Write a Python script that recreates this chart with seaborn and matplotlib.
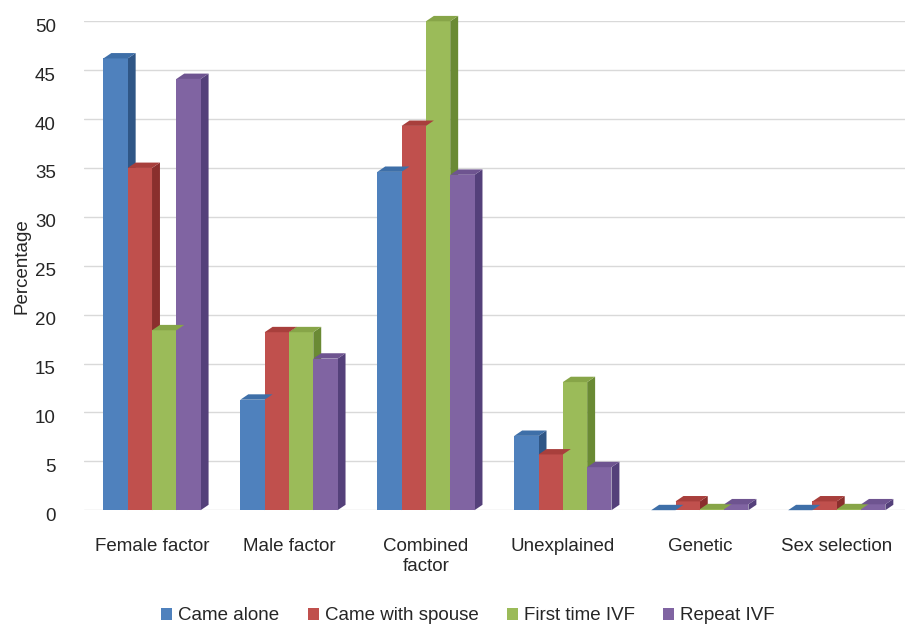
import matplotlib
matplotlib.use("Agg")
import matplotlib.pyplot as plt
from matplotlib.patches import Polygon, Patch
from matplotlib.transforms import ScaledTranslation
import seaborn as sns
import pandas as pd

categories = ["Female factor", "Male factor", "Combined\nfactor", "Unexplained", "Genetic", "Sex selection"]
series_names = ["Came alone", "Came with spouse", "First time IVF", "Repeat IVF"]
came_alone = [46.2, 11.3, 34.6, 7.6, 0.0, 0.0]
came_with_spouse = [35.0, 18.2, 39.3, 5.7, 0.9, 0.9]
first_time_ivf = [18.4, 18.2, 50.0, 13.1, 0.1, 0.1]
repeat_ivf = [44.1, 15.5, 34.3, 4.4, 0.6, 0.6]
yticks = [0, 5, 10, 15, 20, 25, 30, 35, 40, 45, 50]

front_colors = ["#4F81BD", "#C0504D", "#9BBB59", "#8064A2"]
side_colors = ["#2F5686", "#8A2F2D", "#6A8A34", "#54407A"]
top_colors = ["#3E6FA8", "#A83F3C", "#87A548", "#6E5490"]

rows = []
for name, vals in zip(series_names, [came_alone, came_with_spouse, first_time_ivf, repeat_ivf]):
    for c, v in zip(categories, vals):
        rows.append({"category": c, "series": name, "value": v})
df = pd.DataFrame(rows)

sns.set_theme(style="white")
plt.rcParams["font.family"] = ["Liberation Sans", "DejaVu Sans"]

fig = plt.figure(figsize=(9.13, 6.26), dpi=100)
ax = fig.add_axes([0.0915, 0.185, 0.90, 0.781])

sns.barplot(data=df, x="category", y="value", hue="series", order=categories,
            hue_order=series_names, palette=front_colors, width=0.71,
            saturation=1, legend=False, ax=ax, errorbar=None, zorder=3)

ax.set_xlim(-0.5, 5.5)
ax.set_ylim(0, 50)

# pseudo-3D depth faces derived from each bar's geometry
dx, dy = 0.058, 0.55
bars = list(ax.patches)
n_cat = len(categories)
for i, bar in enumerate(bars):
    s = i // n_cat
    x0 = bar.get_x()
    w = bar.get_width()
    h = bar.get_height()
    x1 = x0 + w
    side = Polygon([(x1, 0), (x1 + dx, dy), (x1 + dx, h + dy), (x1, h)],
                   closed=True, facecolor=side_colors[s], edgecolor="none",
                   zorder=2.9, clip_on=False)
    top = Polygon([(x0, h), (x0 + dx, h + dy), (x1 + dx, h + dy), (x1, h)],
                  closed=True, facecolor=top_colors[s], edgecolor="none",
                  zorder=3.1, clip_on=False)
    ax.add_patch(side)
    ax.add_patch(top)
    bar.set_edgecolor("none")

ax.set_yticks(yticks)
ax.set_yticklabels([str(t) for t in yticks], fontsize=13.5)
ax.tick_params(axis="y", length=0, pad=20)
ax.tick_params(axis="x", length=0, pad=20, labelsize=13.5)
shift = ScaledTranslation(0, -4 / 100, fig.dpi_scale_trans)
for lbl in ax.get_yticklabels():
    lbl.set_transform(lbl.get_transform() + shift)
ax.set_xlabel("")
ax.set_ylabel("Percentage", fontsize=13.5, labelpad=3)
ax.yaxis.grid(True, color="#D9D9D9", linewidth=1.0, zorder=0)
ax.set_axisbelow(True)
for sp in ax.spines.values():
    sp.set_visible(False)

handles = [Patch(facecolor=c, edgecolor="none", label=n) for c, n in zip(front_colors, series_names)]
fig.legend(handles=handles, loc="center", bbox_to_anchor=(0.5125, 0.016), ncol=4,
           frameon=False, fontsize=13.5, handlelength=0.6, handleheight=0.6,
           handletextpad=0.3, columnspacing=1.52)

fig.savefig("out.png", dpi=100)
